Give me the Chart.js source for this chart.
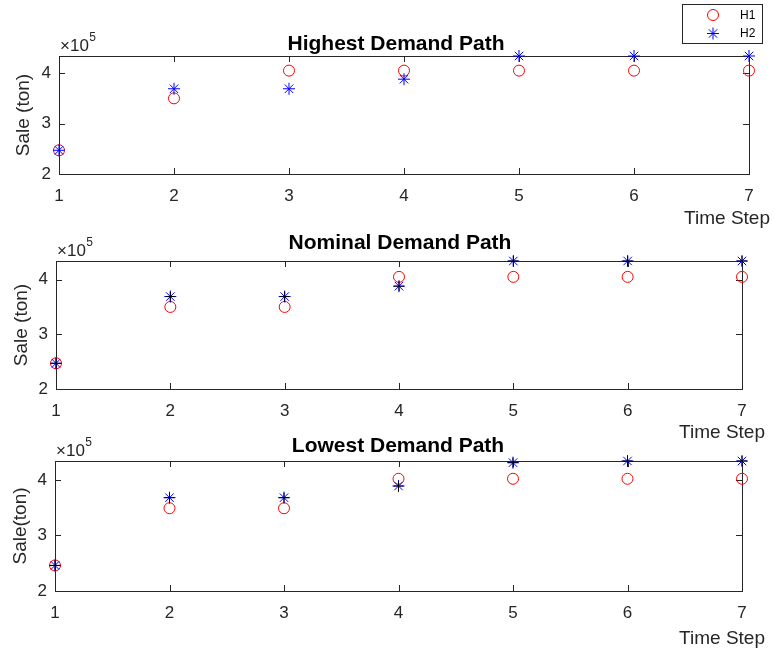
<!DOCTYPE html>
<html>
<head>
<meta charset="utf-8">
<script src="https://cdn.jsdelivr.net/npm/chart.js@4.4.1/dist/chart.umd.min.js"></script>
<style>
  html, body { margin:0; padding:0; background:#fff; }
  #wrap { position:relative; width:774px; height:656px; }
  #wrap canvas { position:absolute; left:0; top:0; }
</style>
</head>
<body>
<div id="wrap">
  <canvas id="c1" width="774" height="656"></canvas>
  <canvas id="c2" width="774" height="656"></canvas>
  <canvas id="c3" width="774" height="656"></canvas>
</div>
<script>
// ---- data ----
const timeSteps = [1, 2, 3, 4, 5, 6, 7];
const yTicks = [200000, 300000, 400000];
const seriesNames = ['H1', 'H2'];
const panelTitles = ['Highest Demand Path', 'Nominal Demand Path', 'Lowest Demand Path'];
const yLabels = ['Sale (ton)', 'Sale (ton)', 'Sale(ton)'];
const xLabel = 'Time Step';

const highestH1 = [247000, 350000, 405000, 405000, 405000, 405000, 405000];
const highestH2 = [247000, 369000, 369000, 388000, 434000, 434000, 434000];
const nominalH1 = [247000, 350000, 350000, 405000, 405000, 405000, 405000];
const nominalH2 = [247000, 369000, 369000, 388000, 434000, 434000, 434000];
const lowestH1  = [246000, 349000, 349000, 402000, 402000, 402000, 402000];
const lowestH2  = [246000, 368000, 368000, 389000, 431000, 434000, 434000];

const yMin = 200000, yMax = 434000;

const W = 774, H = 656;
const TXT = '#262626';
const FONT = '"Liberation Sans", Arial, sans-serif';

// panel geometry (layout only)
const panels = [
  { id:'c1', left:59, right:749, top:56, bottom:174, titleX:396, titleY:50, xlabRight:770, xlabY:219, ytPad:12, legend:true,
    h1: highestH1, h2: highestH2, overlay:null },
  { id:'c2', left:56, right:742, top:261, bottom:389, titleX:400, titleY:249, xlabRight:765, xlabY:433, ytPad:10, legend:false,
    h1: nominalH1, h2: nominalH2, overlay: nominalH2 },
  { id:'c3', left:55, right:742, top:461, bottom:591, titleX:398, titleY:452, xlabRight:765, xlabY:639, ytPad:9, legend:false,
    h1: lowestH1, h2: lowestH2, overlay: lowestH2 }
];

function line(ctx, x1, y1, x2, y2) { ctx.beginPath(); ctx.moveTo(x1, y1); ctx.lineTo(x2, y2); ctx.stroke(); }

const axesBox = {
  id: 'axesBox',
  beforeDatasetsDraw(chart) {
    const { ctx, chartArea: a, scales: { x, y } } = chart;
    ctx.save();
    ctx.strokeStyle = TXT; ctx.lineWidth = 1;
    ctx.strokeRect(a.left + 0.5, a.top + 0.5, a.right - a.left, a.bottom - a.top);
    const tl = 6;
    x.ticks.forEach(t => {
      const px = Math.round(x.getPixelForValue(t.value)) + 0.5;
      line(ctx, px, a.bottom, px, a.bottom - tl);
      line(ctx, px, a.top, px, a.top + tl);
    });
    y.ticks.forEach(t => {
      const py = Math.round(y.getPixelForValue(t.value)) + 0.5;
      line(ctx, a.left, py, a.left + tl, py);
      line(ctx, a.right, py, a.right - tl, py);
    });
    ctx.restore();
  },
  afterDraw(chart, args, opts) {
    const { ctx, chartArea: a } = chart;
    ctx.save();
    // title
    ctx.fillStyle = '#000';
    ctx.font = 'bold 21px ' + FONT;
    ctx.textAlign = 'center'; ctx.textBaseline = 'alphabetic';
    ctx.fillText(opts.title, opts.titleX, opts.titleY);
    // exponent
    ctx.fillStyle = TXT;
    ctx.textAlign = 'left';
    ctx.font = '17px ' + FONT;
    const base = '\u00d710';
    const ex = a.left + 1, ey = a.top - 5;
    ctx.fillText(base, ex, ey);
    const bw = ctx.measureText(base).width;
    ctx.font = '12px ' + FONT;
    ctx.fillText('5', ex + bw + 0.5, ey - 10);
    // x label
    ctx.font = '19px ' + FONT;
    ctx.textAlign = 'right'; ctx.textBaseline = 'middle';
    ctx.fillText(opts.xlabel, opts.xlabRight, opts.xlabY);
    // legend
    if (opts.legend) {
      const bx = 682.5, by = 4.5, bwid = 80, bh = 39;
      ctx.fillStyle = '#fff';
      ctx.fillRect(bx, by, bwid, bh);
      ctx.strokeStyle = TXT; ctx.lineWidth = 1;
      ctx.strokeRect(bx, by, bwid, bh);
      const ds = chart.data.datasets.filter(d => d.inLegend);
      ds.forEach((d, i) => {
        const yy = 15 + i * 18.5;
        ctx.strokeStyle = d.borderColor; ctx.fillStyle = 'rgba(0,0,0,0)';
        Chart.helpers.drawPoint(ctx, { pointStyle: d.pointStyle, radius: d.pointRadius, borderWidth: 1, rotation: 0 }, 713, yy);
        ctx.fillStyle = '#000';
        ctx.font = '12px ' + FONT;
        ctx.textAlign = 'left'; ctx.textBaseline = 'middle';
        ctx.fillText(d.label, 740, yy + 0.5);
      });
    }
    ctx.restore();
  }
};

panels.forEach((p, idx) => {
  const pts = arr => timeSteps.map((t, i) => ({ x: t, y: arr[i] }));
  const datasets = [
    { label: seriesNames[0], data: pts(p.h1), pointStyle: 'circle', pointRadius: 5.5, borderColor: '#ff0000',
      backgroundColor: 'rgba(0,0,0,0)', borderWidth: 1, showLine: false, clip: false, order: 3, inLegend: true },
    { label: seriesNames[1], data: pts(p.h2), pointStyle: 'star', pointRadius: 6, borderColor: '#0000ff',
      backgroundColor: '#0000ff', borderWidth: 1, showLine: false, clip: false, order: 2, inLegend: true }
  ];
  if (p.overlay) {
    datasets.push({ label: '', data: pts(p.overlay), pointStyle: 'cross', pointRadius: 5, borderColor: '#000000',
      backgroundColor: '#000', borderWidth: 1, showLine: false, clip: false, order: 1, inLegend: false });
  }
  new Chart(document.getElementById(p.id), {
    type: 'scatter',
    data: { datasets },
    options: {
      responsive: false, animation: false, devicePixelRatio: 1,
      layout: { autoPadding: false, padding: { top: p.top, right: W - p.right, bottom: 0, left: 0 } },
      plugins: {
        legend: { display: false }, tooltip: { enabled: false }, title: { display: false },
        axesBox: { title: panelTitles[idx], titleX: p.titleX, titleY: p.titleY, xlabel: xLabel,
                   xlabRight: p.xlabRight, xlabY: p.xlabY, legend: p.legend }
      },
      scales: {
        x: {
          type: 'linear', min: timeSteps[0], max: timeSteps[timeSteps.length - 1],
          grid: { display: false, drawTicks: false }, border: { display: false },
          ticks: { stepSize: 1, padding: 12, color: TXT, font: { family: FONT, size: 17 },
                   maxRotation: 0, includeBounds: false, callback: v => String(v) },
          afterFit: s => { s.height = H - p.bottom; }
        },
        y: {
          type: 'linear', min: yMin, max: yMax,
          grid: { display: false, drawTicks: false }, border: { display: false },
          afterBuildTicks: s => { s.ticks = yTicks.map(v => ({ value: v })); },
          ticks: { padding: 8, color: TXT, font: { family: FONT, size: 17 },
                   callback: v => String(v / 100000) },
          title: { display: true, text: yLabels[idx], color: TXT,
                   font: { family: FONT, size: 19 }, padding: { top: p.ytPad, bottom: 0 } },
          afterFit: s => { s.width = p.left; }
        }
      }
    },
    plugins: [axesBox]
  });
});
</script>
</body>
</html>
